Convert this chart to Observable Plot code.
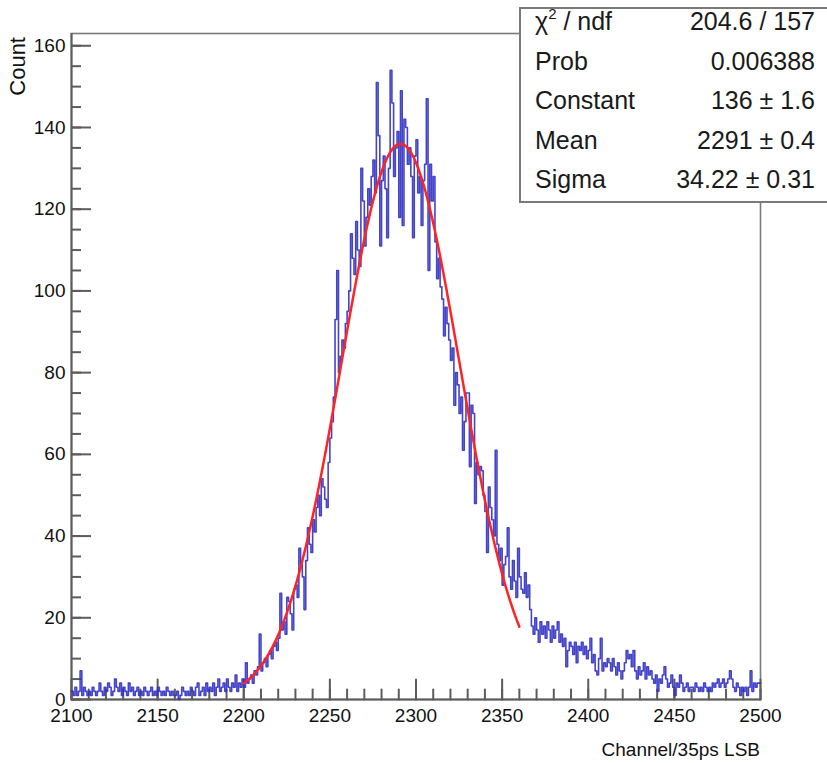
<!DOCTYPE html>
<html><head><meta charset="utf-8">
<script src="https://cdn.jsdelivr.net/npm/d3@7"></script>
<script src="https://cdn.jsdelivr.net/npm/@observablehq/plot@0.6"></script>
<style>
body{margin:0;background:#fff;}
#chart{position:relative;width:827px;height:763px;overflow:hidden;}
svg{overflow:visible;}
</style></head><body><div id="chart"></div>
<script>
// ---- data ----
const channelStart = 2100;
const channelEnd = 2500;
const counts = [
  2, 1, 3, 1, 2, 7, 1, 3, 2, 1,
  2, 1, 3, 2, 1, 2, 4, 2, 1, 3,
  2, 4, 3, 1, 2, 5, 3, 2, 4, 1,
  3, 2, 1, 4, 2, 3, 1, 2, 3, 1,
  2, 1, 3, 2, 1, 2, 3, 1, 2, 1,
  3, 2, 1, 2, 1, 3, 2, 1, 2, 1,
  1, 2, 0, 1, 3, 2, 1, 2, 1, 3,
  2, 1, 3, 4, 1, 2, 3, 1, 4, 2,
  3, 2, 4, 1, 3, 5, 2, 3, 4, 2,
  5, 3, 2, 4, 3, 6, 2, 4, 3, 5,
  3, 9, 4, 5, 6, 4, 7, 6, 8, 16,
  7, 9, 10, 8, 11, 12, 10, 13, 14, 12,
  15, 26, 17, 19, 16, 25, 24, 21, 17, 27,
  28, 25, 37, 33, 30, 22, 34, 42, 38, 36,
  44, 41, 47, 50, 45, 54, 52, 49, 47, 58,
  64, 68, 74, 93, 105, 80, 84, 88, 86, 92,
  95, 100, 114, 108, 104, 117, 110, 106, 130, 122,
  111, 118, 125, 121, 128, 132, 124, 151, 138, 111,
  127, 133, 125, 113, 130, 154, 146, 128, 135, 139,
  118, 149, 116, 142, 140, 131, 135, 128, 113, 133,
  137, 124, 128, 116, 127, 131, 147, 105, 131, 122,
  128, 112, 103, 108, 101, 98, 89, 96, 92, 88,
  83, 86, 72, 80, 77, 70, 74, 61, 68, 75,
  75, 57, 72, 70, 48, 58, 55, 57, 56, 50,
  46, 36, 52, 47, 44, 40, 61, 38, 34, 37,
  28, 33, 35, 42, 30, 27, 34, 29, 25, 37,
  30, 27, 26, 31, 25, 28, 22, 18, 16, 20,
  17, 14, 19, 16, 18, 15, 19, 17, 14, 18,
  15, 17, 19, 14, 16, 13, 15, 8, 12, 14,
  13, 11, 14, 9, 13, 12, 14, 11, 13, 10,
  12, 15, 9, 11, 7, 6, 10, 15, 7, 9,
  8, 10, 9, 7, 10, 8, 6, 9, 7, 5,
  7, 9, 12, 10, 11, 8, 12, 7, 5, 8,
  6, 7, 9, 5, 8, 6, 7, 5, 4, 6,
  2, 5, 4, 6, 8, 5, 3, 4, 6, 3,
  1, 4, 3, 6, 4, 2, 3, 4, 2, 3,
  3, 2, 4, 3, 2, 3, 2, 4, 3, 2,
  3, 2, 4, 3, 4, 5, 3, 4, 5, 3,
  4, 5, 7, 5, 3, 2, 4, 3, 1, 3,
  2, 3, 1, 3, 7, 2, 4, 3, 4, 4
];
const xTicksMajor = [2100, 2150, 2200, 2250, 2300, 2350, 2400, 2450, 2500];
const xTicksMinor = d3.range(2100, 2501, 10);
const yTicksMajor = [0, 20, 40, 60, 80, 100, 120, 140, 160];
const yTicksMinor = d3.range(0, 161, 5);
const fitConstant = 136;
const fitMean = 2291;
const fitSigma = 34.22;
const fitRange = [2200, 2360];
const statsLabels = ["χ", "Prob", "Constant", "Mean", "Sigma"];
const statsValues = ["204.6 / 157", "0.006388", "136 ± 1.6", "2291 ± 0.4", "34.22 ± 0.31"];
const xTitle = "Channel/35ps LSB";
const yTitle = "Count";

// ---- build tables ----
const histData = counts.map((c, i) => ({x: channelStart + i, y: c}));
histData.push({x: channelEnd, y: counts[counts.length - 1]});
const fitData = d3.range(fitRange[0], fitRange[1] + 0.01, 0.5)
  .map(x => ({x, y: fitConstant * Math.exp(-0.5 * ((x - fitMean) / fitSigma) ** 2)}));

// layout
const W = 827, H = 763, mL = 71, mR = 67, mT = 33, mB = 64;
const frameW = W - mL - mR;
const majorLen = 20, minorLen = 10;

// a straight tick shape for the vector mark (points "up" before rotation)
const tickShape = {draw(context, l) { context.moveTo(0, 0); context.lineTo(0, -l); }};

const axisColor = "#5c5c5c";
const svg = Plot.plot({
  width: W, height: H,
  marginLeft: mL, marginRight: mR, marginTop: mT, marginBottom: mB,
  x: {domain: [channelStart, channelEnd]},
  y: {domain: [0, 163]},
  style: {fontFamily: "'Liberation Sans', Arial, sans-serif", fontSize: "19px", color: "#111", background: "white"},
  marks: [
    Plot.frame({stroke: "#7a7a7a", strokeWidth: 1.6}),
    // inward y ticks (horizontal tick marks anchored at the left frame edge)
    Plot.tickY(yTicksMinor, {y: d => d, insetRight: frameW - minorLen, stroke: axisColor, strokeWidth: 2}),
    Plot.tickY(yTicksMajor, {y: d => d, insetRight: frameW - majorLen, stroke: axisColor, strokeWidth: 2}),
    Plot.axisY(yTicksMajor, {anchor: "left", tickSize: 0, tickPadding: 6, label: null, fontSize: 19}),
    // inward x ticks
    Plot.vector(xTicksMinor, {x: d => d, y: () => 0, length: minorLen, rotate: 0, anchor: "start", shape: tickShape, stroke: axisColor, strokeWidth: 2}),
    Plot.vector(xTicksMajor, {x: d => d, y: () => 0, length: majorLen, rotate: 0, anchor: "start", shape: tickShape, stroke: axisColor, strokeWidth: 2}),
    Plot.axisX(xTicksMajor, {anchor: "bottom", tickSize: 0, tickPadding: 9, label: null, tickFormat: d => String(d), fontSize: 19}),
    Plot.ruleY([0], {stroke: axisColor, strokeWidth: 2}),
    Plot.ruleX([channelStart], {stroke: axisColor, strokeWidth: 2}),
    Plot.line(histData, {x: "x", y: "y", curve: "step-after", stroke: "#3030c4", strokeWidth: 1.6, strokeOpacity: 0.9}),
    Plot.line(fitData, {x: "x", y: "y", stroke: "#ff2424", strokeWidth: 2.5})
  ]
});
document.getElementById("chart").appendChild(svg);

// ---- titles and stats box ----
const s = d3.select(svg);
const font = "'Liberation Sans', Arial, sans-serif";
s.append("text").attr("transform", "translate(25,37) rotate(-90)")
  .attr("text-anchor", "end").attr("font-family", font).attr("font-size", 22).attr("fill", "#111").text(yTitle);
s.append("text").attr("x", 760).attr("y", 756)
  .attr("text-anchor", "end").attr("font-family", font).attr("font-size", 19).attr("fill", "#111").text(xTitle);

const box = s.append("g");
box.append("rect").attr("x", 520).attr("y", 8).attr("width", 320).attr("height", 194)
  .attr("fill", "white").attr("stroke", "#7a7a7a").attr("stroke-width", 2);
const rowBase = [30, 69.5, 109, 148.5, 188];
statsLabels.forEach((lab, i) => {
  const t = box.append("text").attr("x", 535).attr("y", rowBase[i]).attr("text-anchor", "start")
    .attr("font-family", font).attr("font-size", 25).attr("fill", "#1a1a1a");
  if (i === 0) {
    t.append("tspan").text("χ");
    t.append("tspan").attr("font-size", 15).attr("dy", -11).text("2");
    t.append("tspan").attr("dy", 11).text(" / ndf");
  } else {
    t.text(lab);
  }
  box.append("text").attr("x", 815).attr("y", rowBase[i]).attr("text-anchor", "end")
    .attr("font-family", font).attr("font-size", 25).attr("fill", "#1a1a1a").text(statsValues[i]);
});
</script></body></html>
